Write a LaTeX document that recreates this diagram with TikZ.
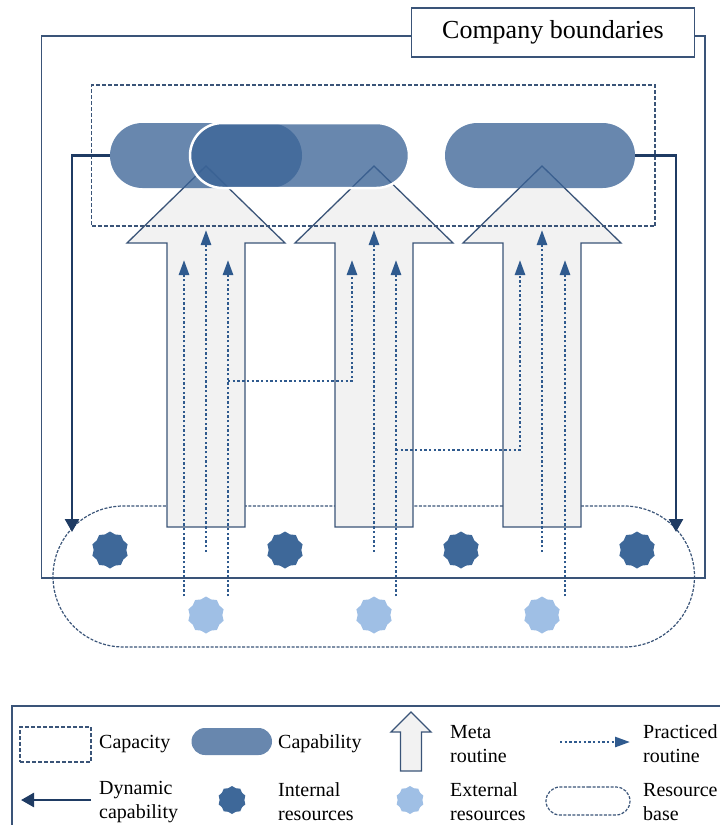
\documentclass[tikz,border=0pt]{standalone}
\usepackage{fontspec}
\setmainfont{Liberation Serif}
\usetikzlibrary{arrows.meta,shapes.geometric,shapes.misc}
\definecolor{capblue}{HTML}{3A6396}
\definecolor{intblue}{HTML}{3E6899}
\definecolor{extblue}{HTML}{9FBFE5}
\definecolor{dotblue}{HTML}{2F5A8E}
\definecolor{navy}{HTML}{1F3B63}
\definecolor{edge}{HTML}{3A5478}
\definecolor{metagray}{HTML}{F2F2F2}
\tikzset{
  frame_b/.style = {draw=edge, line width=1.4pt, inner sep=0pt},% company boundaries
  capa_box/.style = {draw=edge, line width=1.2pt, dash pattern=on 4pt off 2pt,
    inner sep=0pt},% capacity
  capab_n/.style = {rounded rectangle, fill=capblue, fill opacity=0.77,
    inner sep=0pt, minimum height=65pt},% capability
  meta_r/.style = {draw=edge, fill=metagray, line width=1.3pt},% meta routine
  prac_r/.style = {draw=dotblue, line width=2.6pt, dash pattern=on 2.4pt off 2.3pt,
    -{Triangle[length=15pt,width=10pt]}},% practiced routine
  dyn_c/.style = {draw=navy, line width=2.6pt,
    -{Triangle[length=13pt,width=14pt]}},% dynamic capability
  res_n/.style = {star, star points=10, star point ratio=1.13, inner sep=0pt,
    minimum size=37pt},% resource
  res_int/.style = {res_n, fill=intblue},% internal
  res_ext/.style = {res_n, fill=extblue},% external
  res_base/.style = {rounded rectangle, draw=edge, line width=1.2pt,
    dash pattern=on 3pt off 1.5pt, inner sep=0pt},% resource base
  leg_t/.style = {anchor=west, align=left, inner sep=0pt,
    font=\fontsize{20}{24}\selectfont}
}

\begin{document}
\begin{tikzpicture}[x=1pt,y=-1pt]
\useasboundingbox (0,0) rectangle (720,825);
\node [frame_b, minimum width=663.5pt, minimum height=542pt] (company) at (373.25,307) {};
\node [res_base, minimum width=641.5pt, minimum height=141pt] (resbase) at (373.75,576.5) {};
\node [res_int] (int1) at (110,550) {};
\node [res_int] (int2) at (285,550) {};
\node [res_int] (int3) at (461,550) {};
\node [res_int] (int4) at (637,550) {};
\node [res_ext] (ext1) at (206,615) {};
\node [res_ext] (ext2) at (374,615) {};
\node [res_ext] (ext3) at (542,615) {};
% meta routines
\draw [meta_r] (167,527) -- (167,243) -- (127,243) -- (206,166) -- (285,243)
  -- (245,243) -- (245,527) -- cycle;
\draw [meta_r] (335,527) -- (335,243) -- (295,243) -- (374,166) -- (453,243)
  -- (413,243) -- (413,527) -- cycle;
\draw [meta_r] (503,527) -- (503,243) -- (463,243) -- (542,166) -- (621,243)
  -- (581,243) -- (581,527) -- cycle;
\node [capa_box, minimum width=563.5pt, minimum height=141pt] (capacity) at (373.25,155.5) {};
% capabilities
\node [capab_n, minimum width=192pt] (capa_a) at (206,155.5) {};
\node [capab_n, minimum width=219pt, draw=white, line width=2.5pt] (capa_b) at (299.5,155.5) {};
\node [capab_n, minimum width=190pt] (capa_c) at (540,155.5) {};
% dynamic capabilities
\coordinate (dyn_l) at (72,532);
\coordinate (dyn_r) at (676,532);
\draw [dyn_c] (capa_a.west) -| (dyn_l);
\draw [dyn_c] (capa_c.east) -| (dyn_r);
% practiced routines
\coordinate (p1l) at (184,260); \coordinate (p1m) at (206,230);
\coordinate (p1r) at (228,260); \coordinate (p1s) at (206,552);
\coordinate (p2l) at (352,260); \coordinate (p2m) at (374,230);
\coordinate (p2r) at (396,260); \coordinate (p2s) at (374,552);
\coordinate (p3l) at (520,260); \coordinate (p3m) at (542,230);
\coordinate (p3r) at (565,260); \coordinate (p3s) at (542,552);
\coordinate (br1) at (228,381); \coordinate (br2) at (396,450);
\draw [prac_r] (ext1.north -| p1l) -- (p1l);
\draw [prac_r] (p1s) -- (p1m);
\draw [prac_r] (ext1.north -| p1r) -- (p1r);
\draw [prac_r] (br1) -| (p2l);
\draw [prac_r] (p2s) -- (p2m);
\draw [prac_r] (ext2.north -| p2r) -- (p2r);
\draw [prac_r] (br2) -| (p3l);
\draw [prac_r] (p3s) -- (p3m);
\draw [prac_r] (ext3.north -| p3r) -- (p3r);
\node [frame_b, fill=white, minimum width=282.5pt, minimum height=49pt,
  font=\fontsize{26}{30}\selectfont] (company_lbl) at (553,32.5) {Company boundaries};
% legend
\node [draw=edge, line width=1.2pt, minimum width=728pt, minimum height=144pt] (legend) at (376,778) {};
\node [capa_box, minimum width=71pt, minimum height=35pt] (lg_capa) at (55.5,744.5) {};
\node [leg_t] (lg_capa_t) at (99,744) {Capacity};
\node [capab_n, minimum width=80.5pt, minimum height=27pt] (lg_capab) at (231.75,741.5) {};
\node [leg_t] (lg_capab_t) at (278,744) {Capability};
\draw [meta_r] (400.5,771) -- (400.5,732) -- (391,732) -- (411,712) -- (431,732)
  -- (421.5,732) -- (421.5,771) -- cycle;
\node [leg_t] (lg_meta_t) at (450,744) {Meta\\routine};
\coordinate (lg_p0) at (560,742); \coordinate (lg_p1) at (630,742);
\draw [prac_r] (lg_p0) -- (lg_p1);
\node [leg_t] (lg_prac_t) at (643,744) {Practiced\\routine};
\coordinate (lg_d0) at (91,800); \coordinate (lg_d1) at (21,800);
\draw [dyn_c] (lg_d0) -- (lg_d1);
\node [leg_t] (lg_dyn_t) at (99,802) {Dynamic\\capability};
\node [res_int, minimum size=28pt] (lg_int) at (232,800) {};
\node [leg_t] (lg_int_t) at (278,802) {Internal\\resources};
\node [res_ext, minimum size=28pt] (lg_ext) at (410,800) {};
\node [leg_t] (lg_ext_t) at (450,802) {External\\resources};
\node [res_base, minimum width=84pt, minimum height=28pt] (lg_base) at (588,801) {};
\node [leg_t] (lg_base_t) at (643,802) {Resource\\base};
\end{tikzpicture}
\end{document}
